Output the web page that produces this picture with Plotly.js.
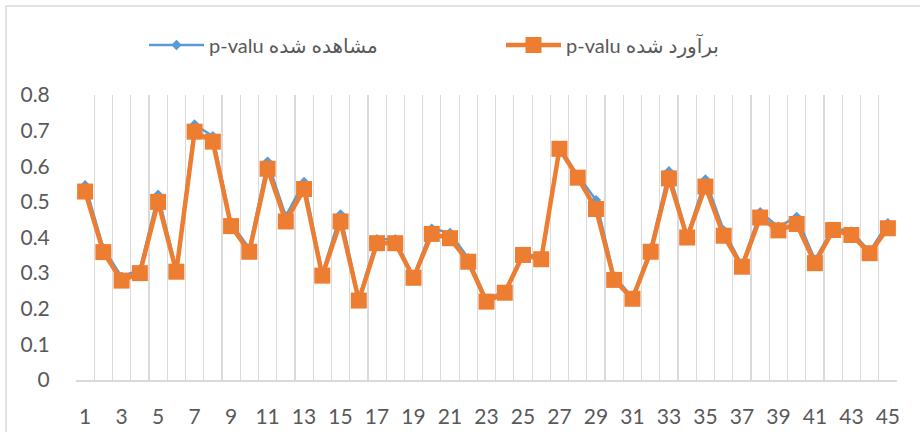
<!DOCTYPE html>
<html>
<head>
<meta charset="utf-8">
<script src="https://cdn.plot.ly/plotly-3.0.1.min.js"></script>
<style>html,body{margin:0;padding:0;background:#fff;}#chart{width:920px;height:432px;}</style>
</head>
<body>
<div id="chart"></div>
<script>
var categories = [1,2,3,4,5,6,7,8,9,10,11,12,13,14,15,16,17,18,19,20,21,22,23,24,25,26,27,28,29,30,31,32,33,34,35,36,37,38,39,40,41,42,43,44,45];
var observed = [0.547,0.37,0.29,0.31,0.52,0.31,0.717,0.684,0.44,0.37,0.613,0.46,0.556,0.30,0.465,0.23,0.395,0.395,0.29,0.425,0.413,0.342,0.225,0.25,0.355,0.345,0.655,0.575,0.505,0.29,0.233,0.37,0.586,0.405,0.563,0.42,0.323,0.471,0.43,0.458,0.338,0.426,0.417,0.361,0.44];
var estimated = [0.529,0.359,0.279,0.30,0.50,0.304,0.697,0.669,0.432,0.36,0.593,0.445,0.536,0.293,0.445,0.223,0.384,0.384,0.287,0.41,0.398,0.332,0.22,0.245,0.351,0.339,0.649,0.568,0.48,0.281,0.228,0.36,0.566,0.40,0.543,0.405,0.318,0.456,0.42,0.438,0.328,0.421,0.407,0.356,0.426];
var observedName = "p-valu مشاهده شده";
var estimatedName = "p-valu برآورد شده";
var yTicks = [0,0.1,0.2,0.3,0.4,0.5,0.6,0.7,0.8];

var tickFont = {family: "Lato, 'Noto Sans', 'DejaVu Sans', sans-serif", size: 21, color: "#595959"};
var legendFont = {family: "Lato, 'DejaVu Sans', sans-serif", size: 20, color: "#595959"};

var traces = [
  {x: categories, y: observed, name: observedName, type: "scatter", mode: "lines+markers",
   line: {color: "#5B9BD5", width: 2.5}, marker: {symbol: "diamond", size: 8, color: "#5B9BD5"}},
  {x: categories, y: estimated, name: estimatedName, type: "scatter", mode: "lines+markers",
   line: {color: "#ED7D31", width: 4.5}, marker: {symbol: "square", size: 16, color: "#ED7D31"}}
];

var layout = {
  width: 920, height: 432,
  margin: {l: 76, r: 23, t: 95, b: 52},
  paper_bgcolor: "#fff", plot_bgcolor: "#fff",
  font: tickFont,
  showlegend: true,
  legend: {orientation: "h", x: (149 - 76 - 5) / 821, xanchor: "left", y: 1 + 50 / 285, yanchor: "middle",
           font: legendFont, itemwidth: 55, entrywidth: 287, entrywidthmode: "pixels", traceorder: "normal"},
  xaxis: {range: [0.5, 45.5], tickmode: "linear", tick0: 1, dtick: 2, showgrid: false,
          zeroline: false, showline: true, linecolor: "#d9d9d9", linewidth: 1.5,
          ticks: "outside", ticklen: 17, tickcolor: "rgba(0,0,0,0)",
          minor: {tick0: 0.5, dtick: 1, showgrid: true, gridcolor: "#dadada", gridwidth: 1.2, ticks: ""},
          tickfont: tickFont, fixedrange: true},
  yaxis: {range: [0, 0.8], tickvals: yTicks, showgrid: false, zeroline: false, showline: false,
          ticks: "outside", ticklen: 21, tickcolor: "rgba(0,0,0,0)", tickfont: tickFont, fixedrange: true},
  shapes: [{type: "rect", xref: "paper", yref: "paper",
            x0: -70/821, x1: 1 + 30/821, y0: -60/285, y1: 1 + 89/285,
            line: {color: "#d9d9d9", width: 1.5}, fillcolor: "rgba(0,0,0,0)", layer: "below"}]
};

Plotly.newPlot("chart", traces, layout, {displayModeBar: false, staticPlot: true});
</script>
</body>
</html>
